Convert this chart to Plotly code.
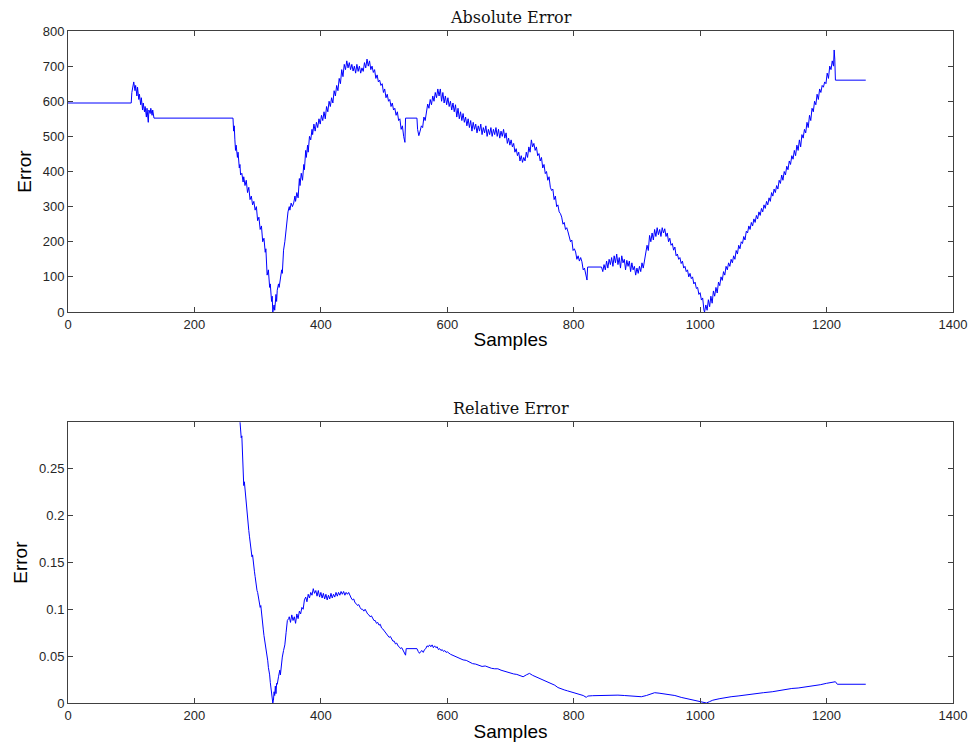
import plotly.graph_objects as go

# ---------------- Data ----------------
abs_x = [0, 100, 101, 103, 104, 106, 107, 109, 110, 112, 113, 115, 116, 118, 119, 121, 122, 124, 125, 127, 128, 130, 131, 133, 134, 136,
         261, 262, 263, 264, 265, 266, 268, 269, 271, 272, 273, 275, 277, 278, 280, 282, 284, 286, 288, 290, 292, 294, 296, 298,
         300, 302, 304, 306, 308, 310, 312, 313, 315, 317, 319, 320, 322, 323, 324, 326, 327, 329, 330, 331, 333, 334, 336, 338, 339,
         341, 343, 345, 346, 348, 350, 351, 353, 355, 357, 359, 360, 362, 364, 366, 367, 369, 371, 373, 374, 376, 377, 379, 380,
         382, 384, 386, 387, 389, 391, 393, 395, 397, 399, 401, 403, 405, 407, 409, 411, 413, 415, 417, 419, 421, 423, 425, 427,
         429, 431, 433, 435, 437, 439, 441, 443, 445, 447, 449, 451, 453, 455, 457, 459, 461, 463, 465, 467, 469, 471, 473, 475,
         477, 479, 481, 483, 485, 487, 489, 491, 493, 495, 497, 499, 501, 503, 505, 507, 509, 511, 513, 515, 517, 519, 521, 523,
         525, 527, 529, 531, 533, 534, 552, 553, 555, 557, 559, 561, 563, 565, 567, 569, 571, 573, 575, 577, 579, 581, 583, 585,
         587, 589, 591, 593, 595, 597, 599, 601, 603, 605, 607, 609, 611, 613, 615, 617, 619, 621, 623, 625, 627, 629, 631, 633,
         635, 637, 639, 641, 643, 645, 647, 649, 651, 653, 655, 657, 659, 661, 663, 665, 667, 669, 671, 673, 675, 677, 679, 681,
         683, 685, 687, 689, 691, 693, 695, 697, 699, 701, 703, 705, 707, 709, 711, 713, 715, 717, 719, 721, 723, 725, 727, 729,
         731, 733, 735, 737, 739, 741, 743, 745, 747, 749, 751, 753, 755, 757, 759, 761, 763, 765, 767, 769, 771, 773, 775, 777,
         779, 781, 783, 785, 787, 789, 791, 793, 795, 797, 799, 801, 803, 805, 807, 809, 811, 813, 815, 817, 819, 821, 822, 844,
         846, 848, 850, 852, 854, 856, 858, 860, 862, 864, 866, 868, 870, 872, 874, 876, 878, 880, 882, 884, 886, 888, 890, 892,
         894, 896, 898, 900, 902, 904, 906, 908, 910, 912, 914, 916, 918, 920, 922, 924, 926, 928, 930, 932, 934, 936, 938, 940,
         942, 944, 946, 948, 950, 952, 954, 956, 958, 960, 962, 964, 966, 968, 970, 972, 974, 976, 978, 980, 982, 984, 986, 988,
         990, 992, 994, 996, 998, 1000, 1002, 1004, 1006, 1007, 1009, 1011, 1013, 1015, 1017, 1019, 1021, 1023, 1025, 1027, 1029,
         1031, 1033, 1035, 1037, 1039, 1041, 1043, 1045, 1047, 1049, 1051, 1053, 1055, 1057, 1059, 1061, 1063, 1065, 1067, 1069,
         1071, 1073, 1075, 1077, 1079, 1081, 1083, 1085, 1087, 1089, 1091, 1093, 1095, 1097, 1099, 1101, 1103, 1105, 1107, 1109,
         1111, 1113, 1115, 1117, 1119, 1121, 1123, 1125, 1127, 1129, 1131, 1133, 1135, 1137, 1139, 1141, 1143, 1145, 1147, 1149,
         1151, 1153, 1155, 1157, 1159, 1161, 1163, 1165, 1167, 1169, 1171, 1173, 1175, 1177, 1179, 1181, 1183, 1185, 1187, 1189,
         1191, 1193, 1195, 1197, 1199, 1201, 1203, 1205, 1207, 1209, 1211, 1212, 1213, 1214, 1262]

abs_err = [595, 595, 625, 640, 655, 630, 645, 615, 640, 605, 620, 590, 610, 575, 595, 570, 585, 555, 580, 540, 575, 565, 580, 560, 575, 552,
           552, 515, 530, 490, 460, 475, 440, 455, 410, 420, 390, 395, 370, 385, 360, 375, 340, 355, 320, 330, 305, 315, 290, 300,
           260, 270, 235, 245, 200, 210, 170, 180, 105, 120, 70, 80, 30, 45, 0, 20, 5, 50, 30, 62, 80, 70, 100, 120, 110,
           176, 200, 230, 260, 285, 300, 290, 310, 300, 310, 330, 315, 340, 325, 380, 360, 395, 375, 420, 405, 460, 440, 475, 455,
           500, 490, 520, 505, 535, 515, 540, 525, 550, 535, 560, 545, 570, 550, 585, 570, 600, 585, 610, 595, 630, 615, 645, 630,
           665, 650, 690, 670, 705, 690, 715, 695, 710, 690, 705, 686, 700, 680, 705, 685, 700, 680, 695, 685, 710, 695, 720, 700,
           715, 690, 700, 682, 690, 665, 675, 655, 660, 645, 650, 625, 635, 610, 620, 600, 605, 585, 595, 575, 580, 560, 570, 545,
           550, 520, 530, 500, 483, 552, 552, 520, 502, 515, 530, 525, 555, 545, 575, 592, 580, 605, 590, 615, 600, 625, 610, 635,
           615, 635, 600, 625, 595, 615, 590, 610, 585, 600, 575, 595, 570, 590, 555, 580, 550, 570, 545, 565, 540, 555, 530, 550,
           525, 545, 515, 540, 520, 535, 510, 530, 515, 535, 505, 525, 510, 530, 500, 520, 505, 525, 500, 520, 505, 525, 500, 520,
           495, 515, 500, 520, 495, 510, 480, 495, 475, 490, 470, 480, 455, 465, 445, 455, 430, 445, 426, 440, 430, 455, 440, 470,
           455, 490, 470, 480, 460, 470, 445, 451, 430, 440, 410, 420, 394, 400, 375, 385, 355, 346, 350, 320, 330, 300, 305, 285,
           280, 270, 250, 255, 235, 240, 228, 215, 200, 205, 175, 180, 171, 150, 160, 145, 155, 143, 120, 125, 105, 91, 128, 128,
           115, 135, 120, 145, 125, 150, 135, 155, 130, 160, 140, 165, 135, 155, 125, 160, 140, 150, 120, 147, 130, 145, 115, 140,
           120, 130, 105, 125, 110, 130, 115, 140, 125, 147, 165, 190, 175, 218, 200, 225, 205, 235, 215, 240, 220, 235, 215, 240,
           225, 237, 215, 225, 200, 210, 190, 195, 176, 185, 160, 165, 150, 155, 138, 145, 125, 130, 115, 120, 100, 110, 95, 100,
           80, 85, 67, 70, 50, 55, 34, 40, 5, 0, 20, 5, 35, 15, 45, 25, 60, 45, 70, 54, 85,
           75, 100, 90, 115, 105, 130, 120, 140, 130, 150, 140, 160, 150, 175, 165, 190, 180, 200, 195, 215,
           205, 230, 225, 245, 235, 255, 245, 265, 255, 275, 265, 285, 275, 295, 285, 305, 295, 315, 305, 325,
           315, 340, 330, 350, 340, 360, 350, 375, 366, 390, 375, 400, 390, 415, 405, 430, 420, 445, 435, 460,
           445, 475, 460, 490, 470, 505, 495, 520, 510, 540, 525, 560, 545, 580, 570, 600, 590, 620, 605, 635,
           625, 645, 640, 655, 650, 680, 665, 700, 690, 715, 700, 746, 720, 660, 660]

rel_x = [271, 272, 273, 274, 275, 276, 277, 278, 279, 280, 281, 282, 283, 284, 285, 286, 287, 288, 289, 290, 291, 292, 293, 294,
         295, 296, 297, 298, 299, 300, 301, 302, 303, 304, 305, 306, 307, 308, 309, 310, 311, 312, 313, 314, 315, 316, 317, 318,
         319, 320, 321, 322, 323, 324, 325, 326, 327, 328, 329, 330, 331, 333, 335, 336, 338, 339, 341, 343, 345, 346, 347, 349,
         350, 352, 354, 356, 358, 360, 362, 364, 366, 368, 370, 372, 374, 376, 378, 380, 382, 384, 386, 388, 390, 392, 394, 396,
         398, 400, 402, 404, 406, 408, 410, 412, 414, 416, 418, 420, 422, 424, 426, 428, 430, 432, 434, 436, 438, 440, 442, 444,
         446, 448, 450, 452, 454, 456, 458, 460, 462, 464, 466, 468, 470, 472, 474, 476, 478, 480, 482, 484, 486, 488, 490, 492,
         494, 496, 498, 500, 502, 504, 506, 508, 510, 512, 514, 516, 518, 520, 522, 524, 526, 528, 530, 532, 534, 535, 552, 554,
         556, 558, 560, 562, 564, 566, 568, 570, 572, 574, 576, 578, 580, 582, 584, 586, 588, 590, 592, 594, 596, 598, 600, 605,
         610, 615, 620, 625, 630, 635, 640, 645, 650, 655, 660, 665, 670, 675, 680, 685, 690, 695, 700, 705, 710, 715, 720, 725,
         730, 735, 740, 745, 750, 755, 760, 765, 770, 775, 780, 785, 790, 795, 800, 805, 810, 815, 820, 822, 830, 840, 850, 860,
         870, 880, 890, 900, 907, 915, 922, 928, 935, 942, 949, 955, 960, 970, 980, 990, 1000, 1005, 1010, 1015, 1020, 1030, 1040,
         1049, 1060, 1070, 1080, 1090, 1100, 1114, 1125, 1135, 1145, 1155, 1165, 1173, 1180, 1190, 1200, 1210, 1214, 1217, 1262]

rel_err = [0.31, 0.299, 0.29, 0.283, 0.285, 0.27, 0.255, 0.232, 0.236, 0.228, 0.22, 0.21, 0.2, 0.195, 0.19, 0.184, 0.178, 0.172,
           0.165, 0.163, 0.156, 0.158, 0.149, 0.145, 0.14, 0.135, 0.128, 0.125, 0.12, 0.118, 0.113, 0.108, 0.105, 0.102, 0.104,
           0.095, 0.088, 0.083, 0.078, 0.072, 0.068, 0.064, 0.06, 0.055, 0.05, 0.045, 0.038, 0.035, 0.03, 0.022, 0.015, 0.008,
           0.004, 0.0, 0.003, 0.012, 0.008, 0.018, 0.01, 0.021, 0.02, 0.028, 0.035, 0.03, 0.045, 0.049, 0.056, 0.062, 0.075,
           0.082, 0.088, 0.09, 0.092, 0.086, 0.094, 0.088, 0.092, 0.085, 0.095, 0.09, 0.098, 0.095, 0.102, 0.1, 0.11, 0.113,
           0.108, 0.116, 0.112, 0.118, 0.115, 0.122, 0.117, 0.12, 0.114, 0.12, 0.113, 0.118, 0.112, 0.117, 0.111, 0.116, 0.11,
           0.115, 0.111, 0.117, 0.112, 0.116, 0.113, 0.118, 0.114, 0.118, 0.115, 0.119, 0.116, 0.119, 0.115, 0.118, 0.116, 0.118,
           0.114, 0.112, 0.11, 0.111, 0.107, 0.106, 0.104, 0.105, 0.102, 0.1, 0.1, 0.098, 0.1, 0.097, 0.095, 0.094, 0.092, 0.093,
           0.09, 0.088, 0.088, 0.085, 0.086, 0.083, 0.084, 0.08, 0.079, 0.077, 0.076, 0.073, 0.072, 0.07, 0.071, 0.068, 0.066,
           0.066, 0.063, 0.064, 0.061, 0.06, 0.058, 0.059, 0.056, 0.054, 0.051, 0.058, 0.058, 0.055, 0.053, 0.055, 0.056, 0.054,
           0.057, 0.058, 0.061, 0.06, 0.062, 0.06, 0.062, 0.059, 0.061, 0.059, 0.06, 0.057, 0.058, 0.056, 0.057, 0.055, 0.056,
           0.054, 0.0546, 0.052, 0.0505, 0.049, 0.0475, 0.046, 0.0455, 0.044, 0.042, 0.0415, 0.04, 0.039, 0.0395, 0.038, 0.037,
           0.0365, 0.0365, 0.035, 0.034, 0.033, 0.0316, 0.031, 0.0305, 0.029, 0.028, 0.03, 0.0316, 0.0295, 0.028, 0.0265, 0.025,
           0.024, 0.022, 0.0205, 0.019, 0.0165, 0.015, 0.014, 0.013, 0.012, 0.011, 0.01, 0.009, 0.008, 0.006, 0.0074, 0.0078,
           0.008, 0.0076, 0.0078, 0.0084, 0.008, 0.0075, 0.007, 0.0067, 0.008, 0.0098, 0.011, 0.0105, 0.0098, 0.0096, 0.0085,
           0.008, 0.006, 0.0045, 0.003, 0.0015, 0.0005, 0.0, 0.0015, 0.003, 0.0045, 0.006, 0.0067, 0.0075, 0.0085, 0.009, 0.01,
           0.011, 0.012, 0.0135, 0.0145, 0.0155, 0.016, 0.017, 0.0174, 0.0185, 0.0195, 0.021, 0.0225, 0.0227, 0.02, 0.02]

x_ticks = [0, 200, 400, 600, 800, 1000, 1200, 1400]
abs_ticks = [0, 100, 200, 300, 400, 500, 600, 700, 800]
rel_ticks = [0, 0.05, 0.1, 0.15, 0.2, 0.25]
rel_tick_text = ["0", "0.05", "0.1", "0.15", "0.2", "0.25"]

# ---------------- Figure ----------------
LINE_BLUE = "#0000FF"
AXIS_COL = "#404040"
TICK_FONT = dict(family="Liberation Sans, Arial, sans-serif", size=13, color="#262626")
LABEL_FONT = dict(family="Liberation Sans, Arial, sans-serif", size=19, color="#000000")
TITLE_FONT = dict(family="DejaVu Serif, serif", size=16, color="#111111")

fig = go.Figure()
fig.add_trace(go.Scatter(x=abs_x, y=abs_err, mode="lines", line=dict(color=LINE_BLUE, width=1),
                         xaxis="x", yaxis="y", showlegend=False, hoverinfo="x+y"))
fig.add_trace(go.Scatter(x=rel_x, y=rel_err, mode="lines", line=dict(color=LINE_BLUE, width=1),
                         xaxis="x2", yaxis="y2", showlegend=False, hoverinfo="x+y"))

common = dict(showline=True, linecolor=AXIS_COL, linewidth=1, mirror="ticks", ticks="inside",
              ticklen=5, tickcolor=AXIS_COL, tickwidth=1, showgrid=False, zeroline=False,
              tickfont=TICK_FONT)

# the page body adds an 8px offset, so the figure is sized to fit the 979x751 window
W, H = 971, 743
plot_top, plot_bottom = 23, 695          # in figure coordinates
top_axis_bottom, bot_axis_top = 304, 414.3
ph = plot_bottom - plot_top
top_dom = [(plot_bottom - top_axis_bottom) / ph, 1.0]
bot_dom = [0.0, (plot_bottom - bot_axis_top) / ph]

fig.update_layout(
    width=W, height=H,
    margin=dict(l=58, r=20, t=plot_top, b=H - plot_bottom),
    paper_bgcolor="white", plot_bgcolor="white",
    xaxis=dict(domain=[0, 1], anchor="y", range=[0, 1400], tickvals=x_ticks,
               title=dict(text="Samples", font=LABEL_FONT, standoff=2), **common),
    yaxis=dict(domain=top_dom, anchor="x", range=[0, 800], tickvals=abs_ticks,
               title=dict(text="Error", font=LABEL_FONT, standoff=6), **common),
    xaxis2=dict(domain=[0, 1], anchor="y2", range=[0, 1400], tickvals=x_ticks,
                title=dict(text="Samples", font=LABEL_FONT, standoff=3), **common),
    yaxis2=dict(domain=bot_dom, anchor="x2", range=[0, 0.2995], tickvals=rel_ticks,
                ticktext=rel_tick_text,
                title=dict(text="Error", font=LABEL_FONT, standoff=6), **common),
    annotations=[
        dict(text="Absolute Error", x=0.5, y=top_dom[1], xref="paper", yref="paper",
             xanchor="center", yanchor="bottom", yshift=2, showarrow=False, font=TITLE_FONT),
        dict(text="Relative Error", x=0.5, y=bot_dom[1], xref="paper", yref="paper",
             xanchor="center", yanchor="bottom", yshift=2, showarrow=False, font=TITLE_FONT),
    ],
)

fig.write_html("out.html")
